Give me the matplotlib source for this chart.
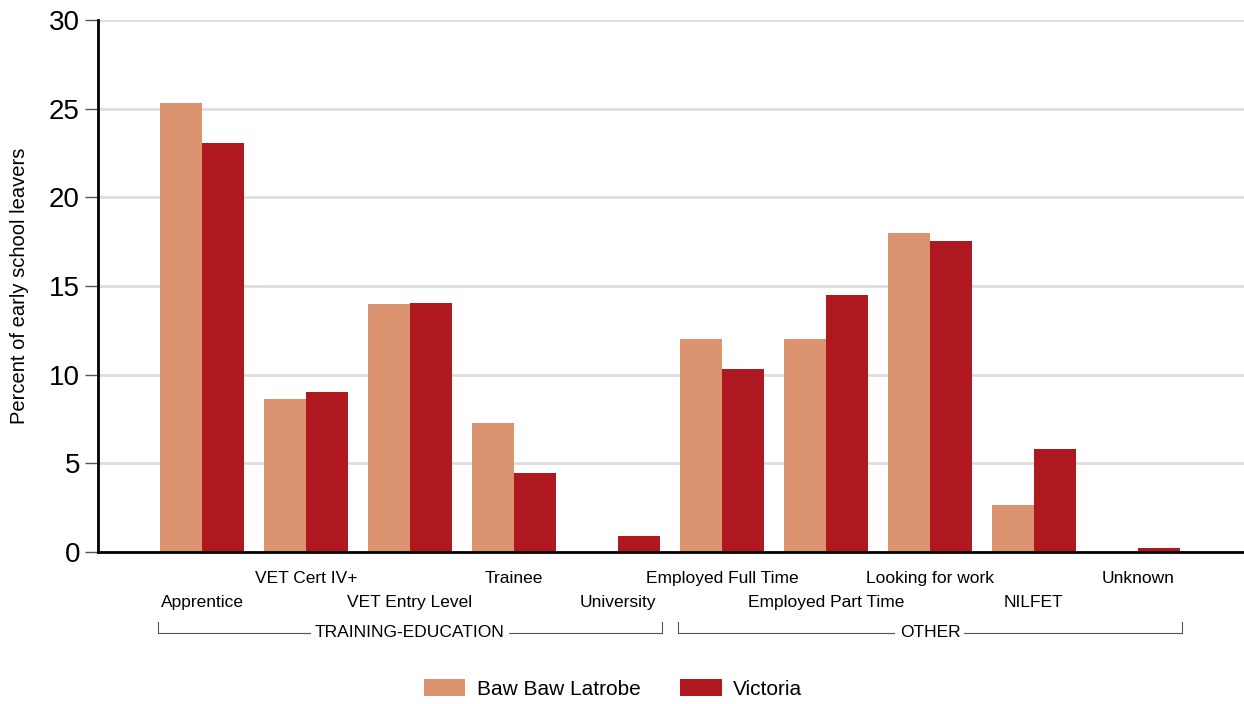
import matplotlib.pyplot as plt
import matplotlib.transforms as mtransforms
import numpy as np

plt.rcParams['font.family'] = ['Liberation Sans', 'DejaVu Sans']

categories = ['Apprentice', 'VET Cert IV+', 'VET Entry Level', 'Trainee', 'University',
              'Employed Full Time', 'Employed Part Time', 'Looking for work', 'NILFET', 'Unknown']
baw_baw = [25.3, 8.65, 14.0, 7.3, 0.0, 12.0, 12.0, 18.0, 2.65, 0.0]
victoria = [23.05, 9.05, 14.05, 4.45, 0.9, 10.3, 14.5, 17.55, 5.8, 0.2]
groups = [('TRAINING-EDUCATION', 0, 4), ('OTHER', 5, 9)]

c_bb = '#DB9370'
c_vic = '#B01820'

fig = plt.figure(figsize=(12.44, 7.04), dpi=100)
ax = fig.add_axes([98 / 1244, 152 / 704, 1 - 98 / 1244, 532 / 704])

x = np.arange(len(categories))
w = 0.404
ax.bar(x - w / 2, baw_baw, w, color=c_bb, label='Baw Baw Latrobe', zorder=3)
ax.bar(x + w / 2, victoria, w, color=c_vic, label='Victoria', zorder=3)

ax.set_xlim(-1, 10.02)
ax.set_ylim(0, 30)
ax.set_yticks([0, 5, 10, 15, 20, 25, 30])
ax.tick_params(axis='y', labelsize=20, length=9.5, width=1, color='#555555', pad=3.5)
ax.set_xticks([])
ax.grid(axis='y', color='#DDDDDD', linewidth=2, zorder=0)
for s in ['top', 'right']:
    ax.spines[s].set_visible(False)
ax.spines['left'].set_linewidth(2)
ax.spines['bottom'].set_linewidth(2)
ax.spines['bottom'].set_zorder(4)
ax.set_ylabel('Percent of early school leavers', fontsize=14.5, labelpad=14)

trans = mtransforms.blended_transform_factory(ax.transData, ax.transAxes)
for i, name in enumerate(categories):
    yy = -0.049 if i % 2 == 1 else -0.094
    ax.text(i, yy, name, transform=trans, ha='center', va='center', fontsize=12.5)

for name, a, b in groups:
    x0 = a - w - 0.02
    x1 = b + w + 0.02
    ax.plot([x0, x0, x1, x1], [-0.1316, -0.152, -0.152, -0.1316], transform=trans,
            color='#555555', linewidth=0.8, clip_on=False)
    ax.text((x0 + x1) / 2, -0.152, name, transform=trans, ha='center', va='center',
            fontsize=12.5, bbox=dict(facecolor='white', edgecolor='none', pad=3))

fig.legend(loc='center', bbox_to_anchor=(613 / 1244, 1 - 689 / 704), ncol=2, frameon=False,
           fontsize=15, handlelength=2.0, handleheight=0.85, columnspacing=1.9, handletextpad=0.55)

fig.savefig('out.png', dpi=100)
